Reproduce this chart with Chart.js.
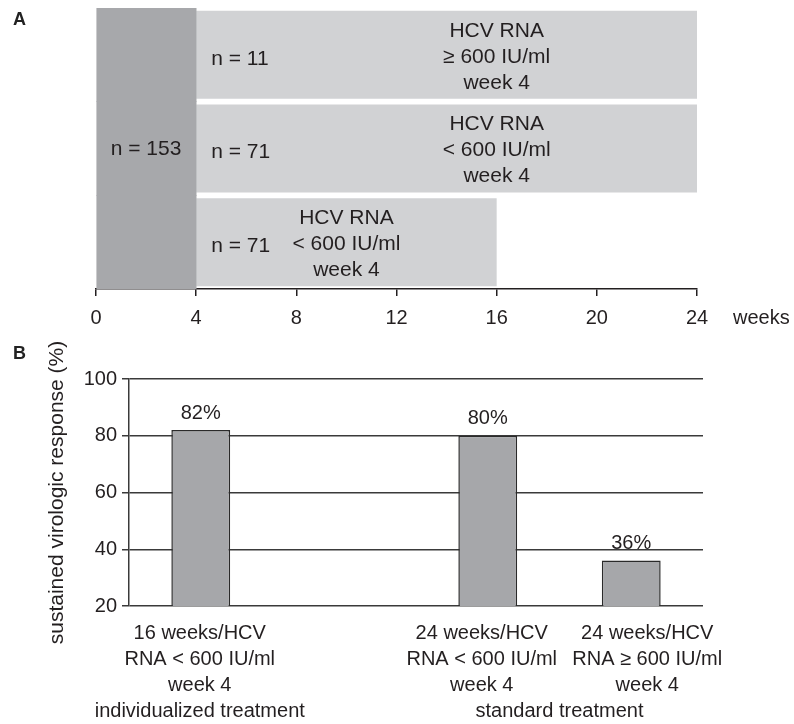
<!DOCTYPE html>
<html>
<head>
<meta charset="utf-8">
<script src="https://cdn.jsdelivr.net/npm/chart.js@4.4.1/dist/chart.umd.min.js"></script>
<style>
  body { margin: 0; background: #fff; }
  #wrap { position: relative; width: 794px; height: 724px; }
  #chartA { position: absolute; left: 0; top: 0; }
  #chartB { position: absolute; left: 0; top: 340px; }
  .panel { position: absolute; left: 13px; font: bold 18px "Liberation Sans", Arial, sans-serif; color: #222; line-height: 20px; }
</style>
</head>
<body>
<div id="wrap">
  <canvas id="chartA" width="794" height="340"></canvas>
  <canvas id="chartB" width="794" height="384"></canvas>
  <div class="panel" style="top:9px">A</div>
  <div class="panel" style="top:343px">B</div>
</div>
<script>
// panel A: treatment schedule (weeks)
const groups = ['HCV RNA ≥ 600 IU/ml week 4', 'HCV RNA < 600 IU/ml week 4 (24 wk)', 'HCV RNA < 600 IU/ml week 4 (16 wk)'];
const leadIn = [[0, 4], [0, 4], [0, 4]];
const therapy = [[4, 24], [4, 24], [4, 16]];
const totalN = 'n = 153';
const groupN = ['n = 11', 'n = 71', 'n = 71'];
const groupText = [
  ['HCV RNA', '≥ 600 IU/ml', 'week 4'],
  ['HCV RNA', '< 600 IU/ml', 'week 4'],
  ['HCV RNA', '< 600 IU/ml', 'week 4']
];

// panel B: sustained virologic response
const armLabels = [
  ['16 weeks/HCV', 'RNA < 600 IU/ml', 'week 4', 'individualized treatment'],
  [],
  ['24 weeks/HCV', 'RNA < 600 IU/ml', 'week 4'],
  ['24 weeks/HCV', 'RNA ≥ 600 IU/ml', 'week 4']
];
const svr = [82, null, 80, 36];
const groupLabel = 'standard treatment';

const FONT = '"Liberation Sans", Arial, sans-serif';
const INK = '#231f20';

const labelsA = {
  id: 'labelsA',
  afterDatasetsDraw(chart) {
    const { ctx, scales: { x, y } } = chart;
    ctx.save();
    ctx.fillStyle = INK;
    ctx.font = '21px ' + FONT;
    ctx.textBaseline = 'middle';
    ctx.textAlign = 'center';
    ctx.fillText(totalN, x.getPixelForValue(2), (chart.chartArea.top + chart.chartArea.bottom) / 2 + 1);
    groups.forEach((g, i) => {
      const cy = y.getPixelForValue(i) + 2;
      ctx.textAlign = 'left';
      ctx.fillText(groupN[i], x.getPixelForValue(4.6), cy + 2);
      // text sits in the right part of the long bars, centred on the short one
      const cw = i < 2 ? 16 : (therapy[i][0] + therapy[i][1]) / 2;
      ctx.textAlign = 'center';
      groupText[i].forEach((line, k) => {
        ctx.fillText(line, x.getPixelForValue(cw), cy + (k - 1) * 26);
      });
    });
    ctx.font = '20px ' + FONT;
    ctx.textAlign = 'left';
    ctx.fillText('weeks', x.right + 36, chart.chartArea.bottom + 29);
    ctx.restore();
  }
};

new Chart(document.getElementById('chartA'), {
  type: 'bar',
  data: {
    labels: groups,
    datasets: [
      { data: leadIn, backgroundColor: '#a7a8ab', barPercentage: 1, categoryPercentage: 1, grouped: false },
      { data: therapy, backgroundColor: '#d1d2d4', barPercentage: 0.94, categoryPercentage: 1, grouped: false }
    ]
  },
  options: {
    indexAxis: 'y',
    responsive: false,
    animation: false,
    devicePixelRatio: 1,
    layout: { padding: { left: 96, right: 97, top: 8, bottom: 0 } },
    plugins: { legend: { display: false }, tooltip: { enabled: false } },
    scales: {
      x: {
        min: 0, max: 24,
        ticks: { stepSize: 4, color: INK, font: { family: FONT, size: 20 }, padding: 10 },
        grid: { drawOnChartArea: false, tickLength: 7, color: INK, lineWidth: 1.5 },
        border: { color: INK, width: 1.5 },
        afterFit: s => { s.height = 51; }
      },
      y: { display: false }
    }
  },
  plugins: [labelsA]
});

// category labels drawn by hand so the two right-hand ones can spread apart like the original
const labelsB = {
  id: 'labelsB',
  afterDatasetsDraw(chart) {
    const { ctx, scales: { x } } = chart;
    const meta = chart.getDatasetMeta(0);
    const shift = [-1, 0, -6, 16];
    ctx.save();
    ctx.fillStyle = INK;
    ctx.font = '20px ' + FONT;
    ctx.textAlign = 'center';
    ctx.textBaseline = 'middle';
    meta.data.forEach((bar, i) => {
      if (svr[i] == null) return;
      ctx.fillText(svr[i] + '%', bar.x, bar.y - 17);
    });
    armLabels.forEach((lines, i) => {
      const cx = x.getPixelForValue(i) + shift[i];
      lines.forEach((line, k) => ctx.fillText(line, cx, x.top + 27 + k * 26));
    });
    const mid = (x.getPixelForValue(2) + x.getPixelForValue(3)) / 2;
    ctx.fillText(groupLabel, mid, x.top + 27 + 3 * 26);
    ctx.restore();
  }
};

new Chart(document.getElementById('chartB'), {
  type: 'bar',
  data: {
    labels: armLabels.map(l => l.join(' ')),
    datasets: [{
      data: svr,
      backgroundColor: '#a6a7aa',
      borderColor: '#2a2a2a',
      borderWidth: 1.5,
      barPercentage: 0.41,
      categoryPercentage: 1
    }]
  },
  options: {
    responsive: false,
    animation: false,
    devicePixelRatio: 1,
    layout: { padding: { left: 41, right: 91, top: 39, bottom: 0 } },
    plugins: { legend: { display: false }, tooltip: { enabled: false } },
    scales: {
      x: {
        grid: { display: false, drawTicks: false },
        border: { display: false },
        ticks: { display: false },
        afterFit: s => { s.height = 118; }
      },
      y: {
        min: 20, max: 100,
        ticks: { stepSize: 20, color: INK, font: { family: FONT, size: 20 }, padding: 5 },
        grid: { color: '#3a3a3a', lineWidth: 1.5, tickLength: 7 },
        border: { color: '#3a3a3a', width: 1.5 },
        title: { display: true, text: 'sustained virologic response (%)', color: INK, font: { family: FONT, size: 21 }, padding: { top: 4, bottom: 0 } },
        afterFit: s => { s.width = 88; }
      }
    }
  },
  plugins: [labelsB]
});
</script>
</body>
</html>
